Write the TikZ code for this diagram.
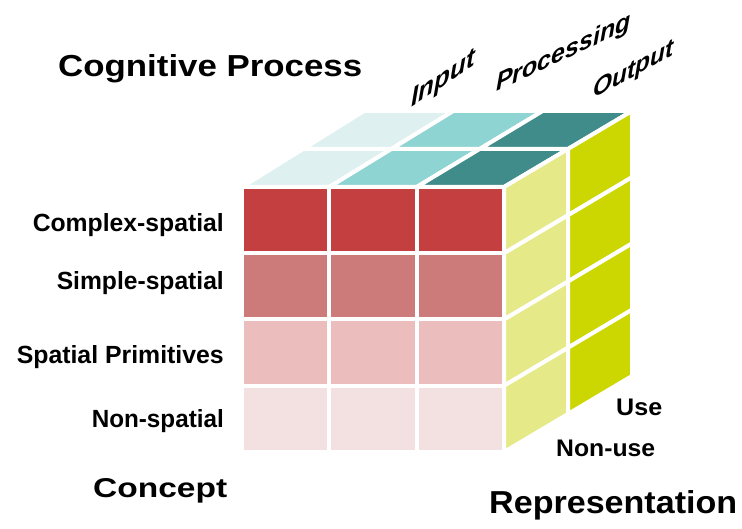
\documentclass[tikz,border=0pt]{standalone}
\usepackage{fontspec}
\setmainfont{Liberation Sans}
\usepackage{graphicx}
\definecolor{frA}{HTML}{C44040}
\definecolor{frB}{HTML}{CC7A7A}
\definecolor{frC}{HTML}{EBBDBD}
\definecolor{frD}{HTML}{F3E0E0}
\definecolor{tpA}{HTML}{DFF0F1}
\definecolor{tpB}{HTML}{8ED4D2}
\definecolor{tpC}{HTML}{408C8A}
\definecolor{rtA}{HTML}{E6E987}
\definecolor{rtB}{HTML}{CCD600}
\begin{document}
\begin{tikzpicture}[x=1pt,y=-1pt,
  cellst/.style={draw=white,line width=4pt,line join=round},
  lab/.style={inner sep=0pt,font=\bfseries},
  slantlab/.style={inner sep=0pt,anchor=base west,transform shape,
    font=\bfseries\itshape}]
\useasboundingbox (0,0) rectangle (742,529);
\fill[white] (0,0) rectangle (742,529);
% front face
\foreach \r/\col in {0/frA,1/frB,2/frC,3/frD}{
  \foreach \k in {0,1,2}{
    \path[cellst,fill=\col] ({242+262*\k/3},{187+66.25*\r}) rectangle ({242+262*(\k+1)/3},{187+66.25*(\r+1)});
  }
}
% top face
\foreach \k/\col in {0/tpA,1/tpB,2/tpC}{
  \foreach \v in {0,1}{
    \pgfmathsetmacro\ua{\k/3}
    \pgfmathsetmacro\ub{(\k+1)/3}
    \pgfmathsetmacro\va{\v/2}
    \pgfmathsetmacro\vb{(\v+1)/2}
    \path[cellst,fill=\col]
      ({(1-\va)*(242+262*\ua)+\va*(364+268*\ua)},{187-76*\va}) --
      ({(1-\va)*(242+262*\ub)+\va*(364+268*\ub)},{187-76*\va}) --
      ({(1-\vb)*(242+262*\ub)+\vb*(364+268*\ub)},{187-76*\vb}) --
      ({(1-\vb)*(242+262*\ua)+\vb*(364+268*\ua)},{187-76*\vb}) -- cycle;
  }
}
% right face
\foreach \w/\col in {0/rtA,1/rtB}{
  \foreach \s in {0,1,2,3}{
    \path[cellst,fill=\col]
      ({504+64*\w},{187-38*\w+66.25*\s}) --
      ({504+64*(\w+1)},{187-38*(\w+1)+66.25*\s}) --
      ({504+64*(\w+1)},{187-38*(\w+1)+66.25*(\s+1)}) --
      ({504+64*\w},{187-38*\w+66.25*(\s+1)}) -- cycle;
  }
}
% labels
\node[lab,anchor=base west] (cog) at (58,77) {\resizebox{304pt}{22pt}{Cognitive Process}};
\node[lab,anchor=base east] (cs) at (224,232) {\resizebox{191pt}{18pt}{Complex-spatial}};
\node[lab,anchor=base east] (ss) at (224,290) {\resizebox{167pt}{18pt}{Simple-spatial}};
\node[lab,anchor=base east] (sp) at (224,364) {\resizebox{207pt}{18pt}{Spatial Primitives}};
\node[lab,anchor=base east] (ns) at (224,428) {\resizebox{132pt}{18pt}{Non-spatial}};
\node[lab,anchor=base west] (con) at (93,497) {\resizebox{134pt}{19pt}{Concept}};
\node[lab,anchor=base west] (use) at (616,415) {\resizebox{46pt}{16.5pt}{Use}};
\node[lab,anchor=base west] (nuse) at (556,456) {\resizebox{99pt}{16.5pt}{Non-use}};
\node[lab,anchor=base west] (rep) at (489,513) {\resizebox{248pt}{23pt}{Representation}};
\begin{scope}[shift={(411,108)},yslant=0.68]
  \node[slantlab] (inp) at (0,0) {\fontsize{26}{30}\selectfont Input};
\end{scope}
\begin{scope}[shift={(496,92)},yslant=0.47]
  \node[slantlab] (proc) at (0,0) {\fontsize{25}{29}\selectfont Processing};
\end{scope}
\begin{scope}[shift={(593,99)},yslant=0.55]
  \node[slantlab] (outp) at (0,0) {\fontsize{24.5}{28}\selectfont Output};
\end{scope}
\end{tikzpicture}
\end{document}
